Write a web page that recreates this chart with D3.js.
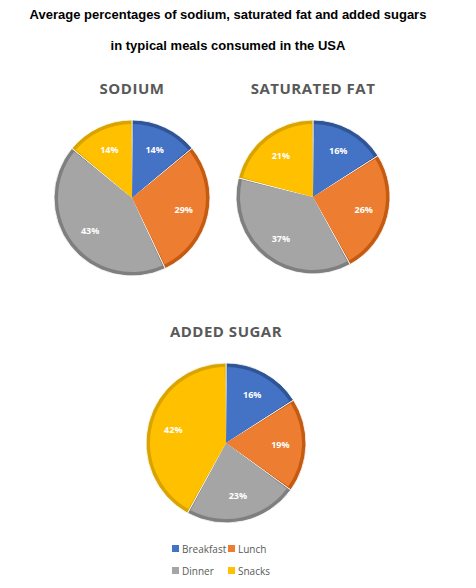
<!DOCTYPE html>
<html><head><meta charset="utf-8">
<script src="https://cdn.jsdelivr.net/npm/d3@7"></script>
<style>body{margin:0;background:#fff}</style>
</head><body>
<svg id="c" width="476" height="588"></svg>
<script>
var meals = ["Breakfast", "Lunch", "Dinner", "Snacks"];
var sodium = [14, 29, 43, 14];
var satFat = [16, 26, 37, 21];
var addedSugar = [16, 19, 23, 42];
var titles = ["Average percentages of sodium, saturated fat and added sugars", "in typical meals consumed in the USA"];

var fills = d3.scaleOrdinal().domain(meals).range(["#4472c4", "#ed7d31", "#a5a5a5", "#ffc000"]);
var edges = d3.scaleOrdinal().domain(meals).range(["#2f5597", "#c55a11", "#7f7f7f", "#d9a300"]);

var svg = d3.select("#c");

svg.selectAll("text.title").data(titles).enter().append("text")
    .attr("x", 228).attr("y", function (d, i) { return 19 + i * 31; })
    .attr("text-anchor", "middle")
    .style("font", "bold 13px 'Liberation Sans', Arial, sans-serif")
    .text(function (d) { return d; });

function drawPie(values, name, cx, cy, r) {
    svg.append("text").attr("x", cx).attr("y", cy - r - 26)
        .attr("text-anchor", "middle").attr("fill", "#595959")
        .style("font", "bold 15px 'Open Sans', sans-serif")
        .style("letter-spacing", "0.5px")
        .text(name);
    var data = values.map(function (v, i) { return { meal: meals[i], value: v }; });
    var arcs = d3.pie().sort(null).value(function (d) { return d.value; })(data);
    var g = svg.append("g").attr("transform", "translate(" + cx + "," + cy + ")");
    var outer = d3.arc().innerRadius(0).outerRadius(r);
    var inner = d3.arc().innerRadius(0).outerRadius(r - 4).padAngle(0.035);
    g.selectAll("path.o").data(arcs).enter().append("path")
        .attr("d", outer).attr("fill", function (d) { return edges(d.data.meal); })
        .attr("stroke", "#fff").attr("stroke-width", 0.8);
    g.selectAll("path.i").data(arcs).enter().append("path")
        .attr("d", inner).attr("fill", function (d) { return fills(d.data.meal); });
    var lab = d3.arc().innerRadius(r * 0.68).outerRadius(r * 0.68);
    g.selectAll("text").data(arcs).enter().append("text")
        .attr("transform", function (d) { return "translate(" + lab.centroid(d) + ")"; })
        .attr("text-anchor", "middle").attr("dy", "0.35em")
        .attr("fill", "#fff")
        .style("font", "bold 9px 'Open Sans', sans-serif")
        .text(function (d) { return d.data.value + "%"; });
}

drawPie(sodium, "SODIUM", 132, 198, 78);
drawPie(satFat, "SATURATED FAT", 313, 197, 77);
drawPie(addedSugar, "ADDED SUGAR", 226, 443, 80);

var leg = svg.selectAll("g.leg").data(meals).enter().append("g")
    .attr("transform", function (d, i) {
        return "translate(" + (172 + (i % 2) * 56) + "," + (549 + Math.floor(i / 2) * 22) + ")";
    });
leg.append("rect").attr("x", 0).attr("y", -4).attr("width", 7).attr("height", 7)
    .attr("fill", function (d) { return fills(d); });
leg.append("text").attr("x", 10).attr("y", 0).attr("dy", "0.35em")
    .attr("fill", "#595959")
    .style("font", "10px 'Open Sans', sans-serif")
    .text(function (d) { return d; });
</script>
</body></html>
